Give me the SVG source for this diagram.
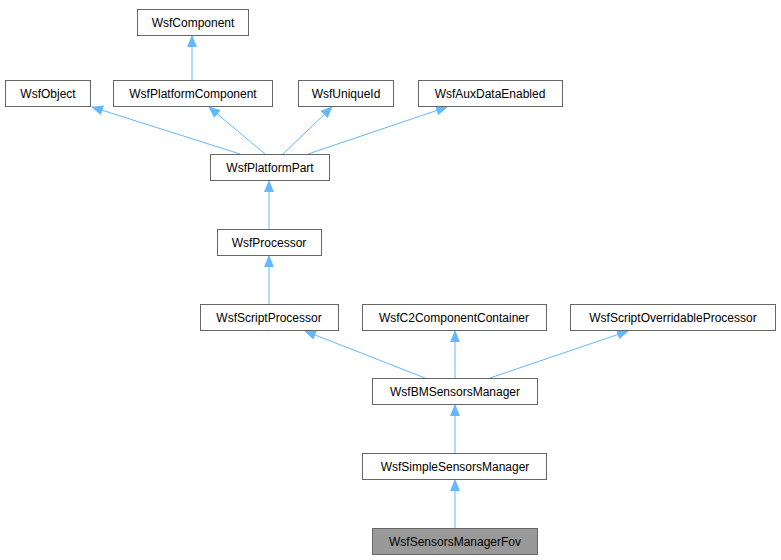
<svg xmlns="http://www.w3.org/2000/svg" width="781" height="560" viewBox="0 0 781 560">
<style>
.n rect{fill:#fff;stroke:#666;stroke-width:1}
.n text{font-family:"Liberation Sans",Arial,sans-serif;font-size:12px;fill:#000;text-anchor:middle}
#fov rect{fill:#999}
.e{stroke:#63b8ff;stroke-width:1;fill:none;marker-end:url(#a)}
</style>
<defs><marker id="a" markerWidth="12" markerHeight="10" refX="11" refY="5" orient="auto" markerUnits="userSpaceOnUse"><path d="M0,0 L12,5 L0,10 Z" fill="#63b8ff"/></marker></defs>
<rect width="781" height="560" fill="#fff"/>
<g id="edges">
<path class="e" d="M192,80 V36"/>
<path class="e" d="M240,154 L92,107"/>
<path class="e" d="M265,154 L209,107"/>
<path class="e" d="M283,154 L332,107"/>
<path class="e" d="M308,154 L447,107"/>
<path class="e" d="M269,229 V181"/>
<path class="e" d="M269,304 V256"/>
<path class="e" d="M425,378 L305,331"/>
<path class="e" d="M455,378 V331"/>
<path class="e" d="M490,378 L628,331"/>
<path class="e" d="M455,453 V405"/>
<path class="e" d="M455,528 V480"/>
</g>
<g id="c" class="n"><rect x="137.5" y="9.5" width="111" height="26"/><text x="193" y="27">WsfComponent</text></g>
<g id="o" class="n"><rect x="5.5" y="80.5" width="85" height="26"/><text x="48" y="98">WsfObject</text></g>
<g id="pc" class="n"><rect x="113.5" y="80.5" width="159" height="26"/><text x="193" y="98">WsfPlatformComponent</text></g>
<g id="u" class="n"><rect x="298.5" y="80.5" width="95" height="26"/><text x="346" y="98">WsfUniqueId</text></g>
<g id="aux" class="n"><rect x="418.5" y="80.5" width="144" height="26"/><text x="490" y="98">WsfAuxDataEnabled</text></g>
<g id="pp" class="n"><rect x="210.5" y="154.5" width="119" height="26"/><text x="270" y="172">WsfPlatformPart</text></g>
<g id="p" class="n"><rect x="217.5" y="229.5" width="104" height="26"/><text x="269" y="247">WsfProcessor</text></g>
<g id="sp" class="n"><rect x="200.5" y="304.5" width="138" height="26"/><text x="269" y="322">WsfScriptProcessor</text></g>
<g id="c2" class="n"><rect x="362.5" y="304.5" width="184" height="26"/><text x="454" y="322">WsfC2ComponentContainer</text></g>
<g id="sop" class="n"><rect x="570.5" y="304.5" width="205" height="26"/><text x="673" y="322">WsfScriptOverridableProcessor</text></g>
<g id="bm" class="n"><rect x="372.5" y="378.5" width="165" height="26"/><text x="455" y="396">WsfBMSensorsManager</text></g>
<g id="ssm" class="n"><rect x="362.5" y="453.5" width="184" height="26"/><text x="455" y="471">WsfSimpleSensorsManager</text></g>
<g id="fov" class="n"><rect x="372.5" y="528.5" width="165" height="26"/><text x="455" y="546">WsfSensorsManagerFov</text></g>
</svg>
